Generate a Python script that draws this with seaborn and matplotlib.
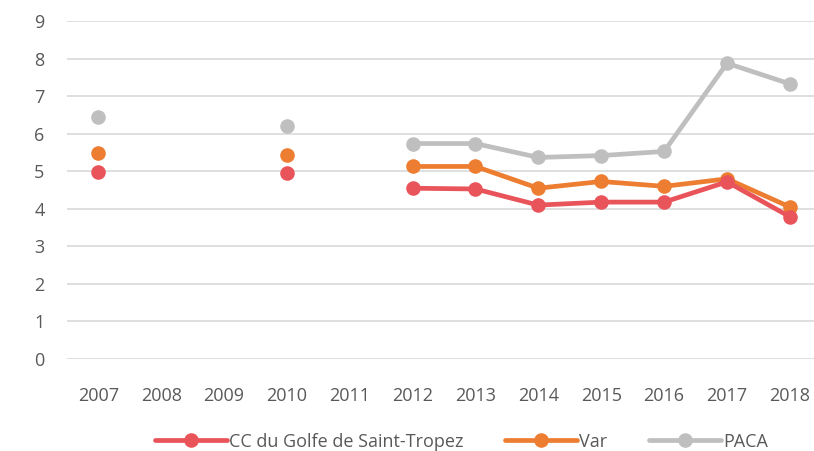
import numpy as np
import pandas as pd
import matplotlib
matplotlib.use("Agg")
import matplotlib.pyplot as plt
import seaborn as sns
from matplotlib.lines import Line2D

years = [2007, 2008, 2009, 2010, 2011, 2012, 2013, 2014, 2015, 2016, 2017, 2018]
cc_golfe = [4.97, np.nan, np.nan, 4.95, np.nan, 4.55, 4.53, 4.10, 4.18, 4.18, 4.72, 3.79]
var = [5.50, np.nan, np.nan, 5.43, np.nan, 5.13, 5.13, 4.55, 4.73, 4.60, 4.80, 4.05]
paca = [6.46, np.nan, np.nan, 6.22, np.nan, 5.74, 5.74, 5.37, 5.42, 5.53, 7.88, 7.33]

series = ["CC du Golfe de Saint-Tropez", "Var", "PACA"]
colors = {"CC du Golfe de Saint-Tropez": "#E9545A", "Var": "#ED7D31", "PACA": "#BFBFBF"}

# long format, one "segment" id per run of consecutive values so gaps stay open
rows = []
for name, vals in zip(series, [cc_golfe, var, paca]):
    seg = 0
    for y, v in zip(years, vals):
        if np.isnan(v):
            seg += 1
            continue
        rows.append({"year": y, "value": v, "serie": name, "seg": seg})
df = pd.DataFrame(rows)

sns.set_style("white")
plt.rcParams['font.family'] = ['Open Sans', 'DejaVu Sans']

fig, ax = plt.subplots(figsize=(8.14, 4.51), dpi=100)
fig.subplots_adjust(left=0.082, right=1.009, top=0.953, bottom=0.204)

# draw PACA first so the red line sits on top like the original
for name in ["PACA", "Var", "CC du Golfe de Saint-Tropez"]:
    sub = df[df["serie"] == name]
    sns.lineplot(data=sub, x="year", y="value", units="seg", estimator=None,
                 color=colors[name], linewidth=3.4, marker="o", markersize=10.5,
                 markeredgewidth=0, ax=ax, legend=False)

ax.set_xlim(2006.5, 2018.5)
ax.set_ylim(0, 9)
ax.set_yticks(range(0, 10))
ax.set_xticks(years)
ax.set_xticklabels([str(y) for y in years])
ax.yaxis.grid(True, color="#D9D9D9", linewidth=1.2)
ax.set_axisbelow(True)
for s in ax.spines.values():
    s.set_visible(False)
ax.tick_params(axis="both", length=0, labelsize=13, labelcolor="#595959")
ax.tick_params(axis="x", pad=20)
ax.tick_params(axis="y", pad=16)
ax.set_xlabel("")
ax.set_ylabel("")

handles = [Line2D([0], [0], color=colors[n], linewidth=3.4, marker="o",
                  markersize=10.5, markeredgewidth=0) for n in series]
fig.legend(handles, series, loc="lower center", bbox_to_anchor=(0.567, -0.035), ncol=3,
           frameon=False, fontsize=13, labelcolor="#595959", handlelength=4.0,
           handletextpad=0.1, columnspacing=2.3)

fig.savefig("out.png", dpi=100)
